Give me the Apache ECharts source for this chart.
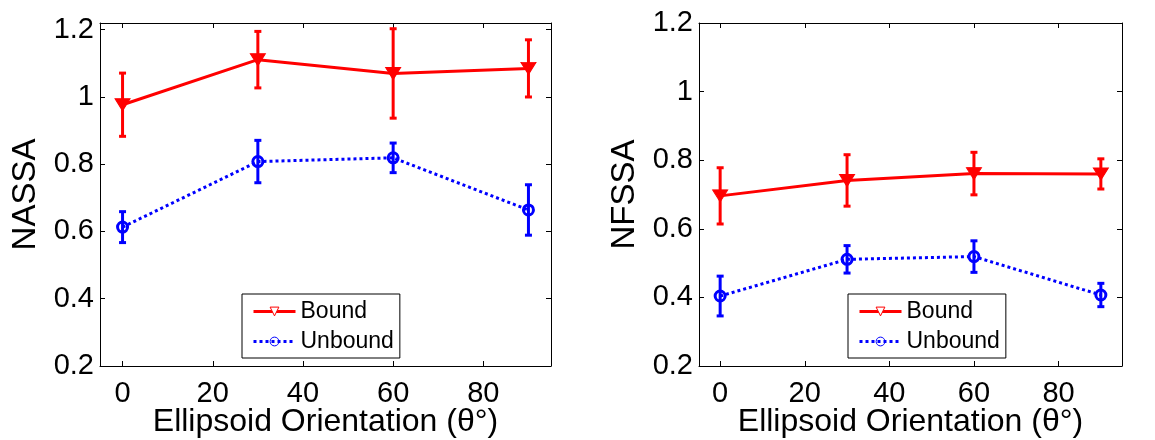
<!DOCTYPE html>
<html>
<head>
<meta charset="utf-8">
<script src="https://cdn.jsdelivr.net/npm/echarts@6/dist/echarts.min.js"></script>
<style>
html,body{margin:0;padding:0;background:#fff;}
#chart{width:1155px;height:440px;}
</style>
</head>
<body>
<div id="chart"></div>
<script>
// ---- data ----
const orientations = [0, 30, 60, 90];
const nassaBound = [0.977, 1.111, 1.070, 1.085];
const nassaBoundErr = [0.094, 0.084, 0.133, 0.085];
const nassaUnbound = [0.613, 0.808, 0.819, 0.664];
const nassaUnboundErr = [0.046, 0.063, 0.044, 0.075];
const nfssaBound = [0.696, 0.741, 0.761, 0.760];
const nfssaBoundErr = [0.082, 0.075, 0.062, 0.044];
const nfssaUnbound = [0.404, 0.511, 0.519, 0.407];
const nfssaUnboundErr = [0.058, 0.040, 0.046, 0.034];
const xTicks = [0, 20, 40, 60, 80];
const yTicks = [0.2, 0.4, 0.6, 0.8, 1, 1.2];
const seriesNames = ['Bound', 'Unbound'];
const xTitle = 'Ellipsoid Orientation (\u03b8\u00b0)';
const yTitles = ['NASSA', 'NFSSA'];

const FONT = 'Liberation Sans, Arial, sans-serif';
const RED = '#ff0000';
const BLUE = '#0000ff';

function pairs(xs, ys) { return xs.map((x, i) => [x, ys[i]]); }
function errData(xs, ys, es) { return xs.map((x, i) => [x, ys[i], es[i]]); }

function errRender(color) {
  return function (params, api) {
    const x = api.value(0), y = api.value(1), e = api.value(2);
    const top = api.coord([x, y + e]);
    const bot = api.coord([x, y - e]);
    const cw = 3.5;
    const style = { stroke: color, lineWidth: 3, fill: null };
    return {
      type: 'group',
      children: [
        { type: 'line', shape: { x1: top[0], y1: top[1], x2: bot[0], y2: bot[1] }, style: style },
        { type: 'line', shape: { x1: top[0] - cw, y1: top[1], x2: top[0] + cw, y2: top[1] }, style: style },
        { type: 'line', shape: { x1: bot[0] - cw, y1: bot[1], x2: bot[0] + cw, y2: bot[1] }, style: style }
      ]
    };
  };
}

const grids = [
  { left: 100, top: 23, width: 451, height: 343, containLabel: false, outerBoundsMode: 'none' },
  { left: 699, top: 23, width: 423, height: 343, containLabel: false, outerBoundsMode: 'none' }
];
const yMaxes = [1.22, 1.2];

const xAxes = [], yAxes = [];
grids.forEach((g, gi) => {
  xAxes.push({
    type: 'value', gridIndex: gi, position: 'bottom', min: -5, max: 95,
    name: xTitle, nameLocation: 'middle', nameGap: 40, nameMoveOverlap: false,
    nameTextStyle: { fontFamily: FONT, fontSize: 32, color: '#000' },
    axisLine: { show: true, onZero: false, lineStyle: { color: '#000', width: 1 } },
    axisTick: { show: true, inside: true, length: 5, customValues: xTicks, lineStyle: { color: '#000' } },
    axisLabel: { show: true, customValues: xTicks, fontFamily: FONT, fontSize: 29, color: '#000', margin: 13 },
    splitLine: { show: false }
  });
  xAxes.push({
    type: 'value', gridIndex: gi, position: 'top', min: -5, max: 95,
    axisLine: { show: true, onZero: false, lineStyle: { color: '#000', width: 1 } },
    axisTick: { show: true, inside: true, length: 5, customValues: xTicks, lineStyle: { color: '#000' } },
    axisLabel: { show: false },
    splitLine: { show: false }
  });
  yAxes.push({
    type: 'value', gridIndex: gi, position: 'left', min: 0.2, max: yMaxes[gi],
    name: yTitles[gi], nameLocation: 'middle', nameGap: 58,
    nameTextStyle: { fontFamily: FONT, fontSize: 33, color: '#000' },
    axisLine: { show: true, onZero: false, lineStyle: { color: '#000', width: 1 } },
    axisTick: { show: true, inside: true, length: 5, customValues: yTicks, lineStyle: { color: '#000' } },
    axisLabel: { show: true, customValues: yTicks, fontFamily: FONT, fontSize: 29, color: '#000', margin: 6 },
    splitLine: { show: false }
  });
  yAxes.push({
    type: 'value', gridIndex: gi, position: 'right', min: 0.2, max: yMaxes[gi],
    axisLine: { show: true, onZero: false, lineStyle: { color: '#000', width: 1 } },
    axisTick: { show: true, inside: true, length: 5, customValues: yTicks, lineStyle: { color: '#000' } },
    axisLabel: { show: false },
    splitLine: { show: false }
  });
});

const panels = [
  { b: nassaBound, be: nassaBoundErr, u: nassaUnbound, ue: nassaUnboundErr },
  { b: nfssaBound, be: nfssaBoundErr, u: nfssaUnbound, ue: nfssaUnboundErr }
];

const series = [];
panels.forEach((p, gi) => {
  const xi = gi * 2, yi = gi * 2;
  series.push({
    type: 'custom', name: 'err-b-' + gi, xAxisIndex: xi, yAxisIndex: yi,
    renderItem: errRender(RED), data: errData(orientations, p.b, p.be), silent: true, z: 2
  });
  series.push({
    type: 'custom', name: 'err-u-' + gi, xAxisIndex: xi, yAxisIndex: yi,
    renderItem: errRender(BLUE), data: errData(orientations, p.u, p.ue), silent: true, z: 2
  });
  series.push({
    type: 'line', name: seriesNames[0], xAxisIndex: xi, yAxisIndex: yi,
    data: pairs(orientations, p.b), symbol: 'triangle', symbolRotate: 180, symbolSize: [15, 12],
    lineStyle: { color: RED, width: 3 },
    itemStyle: { color: RED, borderColor: RED, borderWidth: 1 },
    z: 3
  });
  series.push({
    type: 'line', name: seriesNames[1], xAxisIndex: xi, yAxisIndex: yi,
    data: pairs(orientations, p.u), symbol: 'circle', symbolSize: 10,
    lineStyle: { color: BLUE, width: 3, type: [3, 3], cap: 'butt' },
    itemStyle: { color: 'rgba(255,255,255,0)', borderColor: BLUE, borderWidth: 3 },
    z: 3
  });
});

function legendFor(left) {
  return {
    orient: 'vertical', left: left, top: 294,
    backgroundColor: '#fff', borderColor: '#000', borderWidth: 1, borderRadius: 0,
    padding: [6, 6, 5, 10], itemWidth: 42, itemHeight: 11, itemGap: 7,
    textStyle: { fontFamily: FONT, fontSize: 23, color: '#000', lineHeight: 23 },
    selectedMode: false,
    data: [
      { name: seriesNames[0], itemStyle: { color: '#fff', borderColor: RED, borderWidth: 1 }, lineStyle: { color: RED, width: 3 } },
      { name: seriesNames[1], itemStyle: { color: 'rgba(255,255,255,0)', borderColor: BLUE, borderWidth: 1 }, lineStyle: { color: BLUE, width: 3, type: [3, 3] } }
    ]
  };
}

const chart = echarts.init(document.getElementById('chart'), null, { renderer: 'canvas' });
chart.setOption({
  animation: false,
  backgroundColor: '#fff',
  grid: grids,
  xAxis: xAxes,
  yAxis: yAxes,
  legend: [legendFor(242), legendFor(848)],
  series: series
});
</script>
</body>
</html>
